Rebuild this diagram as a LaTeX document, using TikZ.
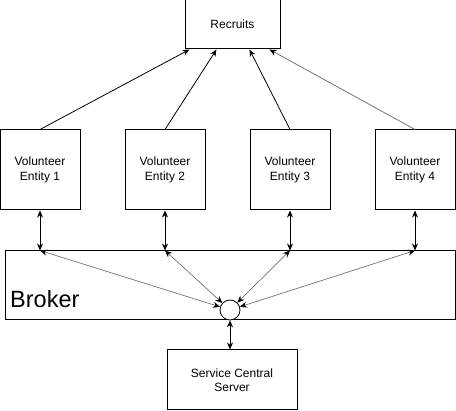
\documentclass[tikz,border=0pt]{standalone}
\usepackage{fontspec}
\setmainfont{Liberation Sans}
\usetikzlibrary{arrows.meta,calc}
\begin{document}
\begin{tikzpicture}[x=1pt,y=-1pt,
  box/.style={draw=black,line width=1pt,fill=white,rectangle,inner sep=0pt,align=center,font=\fontsize{12}{14.5}\selectfont},
  link/.style={line width=0.8pt,-{Stealth[length=7pt,width=6pt]}},
  glink/.style={draw=black!55,line width=0.8pt,-{Stealth[length=7pt,width=6pt,black]}},
  dlink/.style={line width=0.8pt,{Stealth[length=7pt,width=6pt]}-{Stealth[length=7pt,width=6pt]}},
  gdlink/.style={draw=black!55,line width=0.7pt,{Stealth[length=7pt,width=6pt,black]}-{Stealth[length=7pt,width=6pt,black]}}]
\useasboundingbox (0,0) rectangle (456,411);
\node[box,minimum width=95pt,minimum height=49pt] (rec) at (232.5,24.5) {Recruits};
\node[box,minimum width=80pt,minimum height=80pt] (v1) at (40,170) {Volunteer\\Entity 1};
\node[box,minimum width=80pt,minimum height=80pt] (v2) at (165,170) {Volunteer\\Entity 2};
\node[box,minimum width=80pt,minimum height=80pt] (v3) at (290,170) {Volunteer\\Entity 3};
\node[box,minimum width=80pt,minimum height=80pt] (v4) at (415,170) {Volunteer\\Entity 4};
\node[box,minimum width=450pt,minimum height=69pt] (broker) at (230,285.5) {};
\node[anchor=base west,inner sep=0pt,font=\fontsize{23.5}{28}\selectfont] (blabel) at (10,308) {Broker};
\node[draw=black,line width=0.8pt,fill=white,circle,minimum size=20pt,inner sep=0pt] (hub) at (230,310) {};
\node[box,minimum width=130pt,minimum height=60pt] (srv) at (232,380) {Service Central\\Server};
\coordinate (r1) at ($(rec.south west)+(5,0)$);
\coordinate (r2) at ($(rec.south west)+(32,0)$);
\coordinate (r3) at ($(rec.south west)+(65,0)$);
\coordinate (r4) at ($(rec.south west)+(85,0)$);
\draw[link] (v1.north) -- (r1);
\draw[link] (v2.north) -- (r2);
\draw[link] (v3.north) -- (r3);
\draw[glink] (v4.north) -- (r4);
\coordinate (b1) at (v1.south |- broker.north);
\coordinate (b2) at (v2.south |- broker.north);
\coordinate (b3) at (v3.south |- broker.north);
\coordinate (b4) at (v4.south |- broker.north);
\draw[dlink] (v1.south) -- (b1);
\draw[dlink] (v2.south) -- (b2);
\draw[dlink] (v3.south) -- (b3);
\draw[dlink] (v4.south) -- (b4);
\draw[gdlink] (b1) -- (hub);
\draw[gdlink] (b2) -- (hub);
\draw[gdlink] (b3) -- (hub);
\draw[gdlink] (b4) -- (hub);
\draw[dlink] (hub.south) -- (hub.south |- srv.north);
\end{tikzpicture}
\end{document}
